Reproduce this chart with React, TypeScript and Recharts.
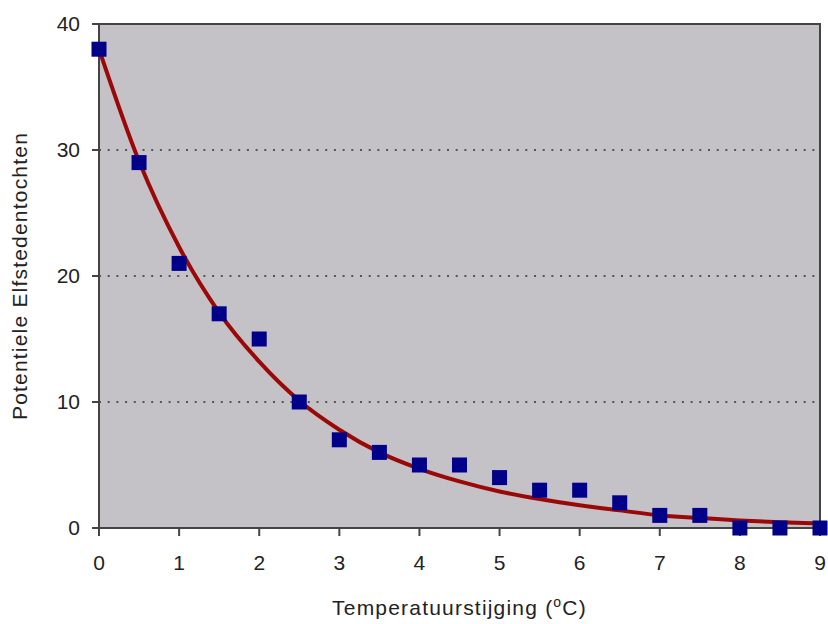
import React from 'react'
import {
  ComposedChart,
  Scatter,
  Line,
  XAxis,
  YAxis,
  CartesianGrid,
  ReferenceArea,
  Label,
} from 'recharts'

// measured points (temperature rise vs potential Elfstedentochten)
const temps = [0, 0.5, 1, 1.5, 2, 2.5, 3, 3.5, 4, 4.5, 5, 5.5, 6, 6.5, 7, 7.5, 8, 8.5, 9]
const tochten = [38, 29, 21, 17, 15, 10, 7, 6, 5, 5, 4, 3, 3, 2, 1, 1, 0, 0, 0]
// trend curve
const trend = [38, 29.1, 22.3, 17.1, 13.2, 10.1, 7.8, 6.0, 4.7, 3.7, 2.9, 2.3, 1.8, 1.4, 1.0, 0.8, 0.6, 0.45, 0.35]
const xTicks = [0, 1, 2, 3, 4, 5, 6, 7, 8, 9]
const yTicks = [0, 10, 20, 30, 40]

const points = temps.map((t, i) => ({ x: t, y: tochten[i] }))
const curve = temps.map((t, i) => ({ x: t, fit: trend[i] }))

const FONT = '"Liberation Sans", Arial, Helvetica, sans-serif'
const AXIS = '#444'
const TEXT = '#222'

const Square = (props: any) => {
  const { cx, cy } = props
  if (cx == null || cy == null) return null
  const s = 15
  return <rect x={cx - s / 2} y={cy - s / 2} width={s} height={s} fill="#000088" />
}

const XTick = (props: any) => {
  const { x, y, payload } = props
  return (
    <text x={x} y={y + 16} textAnchor="middle" fontFamily={FONT} fontSize={21} fill={TEXT}>
      {payload.value}
    </text>
  )
}

const YTick = (props: any) => {
  const { x, y, payload } = props
  return (
    <text x={x} y={y + 7} textAnchor="end" fontFamily={FONT} fontSize={21} fill={TEXT}>
      {payload.value}
    </text>
  )
}

const XTitle = (props: any) => {
  const vb = props.viewBox
  return (
    <text
      x={vb.x + vb.width / 2}
      y={vb.y + 87}
      textAnchor="middle"
      fontFamily={FONT}
      fontSize={21}
      letterSpacing={1.2}
      fill={TEXT}
    >
      Temperatuurstijging (
      <tspan dy={-8} fontSize={14}>o</tspan>
      <tspan dy={8}>C)</tspan>
    </text>
  )
}

export default function App() {
  return (
    <div style={{ position: 'absolute', left: 0, top: 0, width: 828, height: 624, background: '#fff' }}>
      <ComposedChart
        width={828}
        height={624}
        margin={{ top: 24, right: 8, bottom: 0, left: 0 }}
      >
        <CartesianGrid
          fill="#c4c2c6"
          vertical={false}
          stroke="#555"
          strokeDasharray="2 6.7"
          strokeWidth={2}
        />
        <XAxis
          type="number"
          dataKey="x"
          domain={[0, 9]}
          ticks={xTicks}
          height={96}
          tickSize={8}
          tickMargin={18}
          stroke={AXIS}
          strokeWidth={2}
          tick={<XTick />}
          allowDuplicatedCategory={false}
        >
          <Label content={<XTitle />} />
        </XAxis>
        <YAxis
          type="number"
          domain={[0, 40]}
          ticks={yTicks}
          width={99}
          tickSize={7}
          tickMargin={12}
          stroke={AXIS}
          strokeWidth={2}
          tick={<YTick />}
        >
          <Label
            value="Potentiele Elfstedentochten"
            angle={-90}
            position="insideLeft"
            offset={20}
            style={{ textAnchor: 'middle', fontSize: 21, letterSpacing: 1.2, fill: TEXT, fontFamily: FONT }}
          />
        </YAxis>
        <ReferenceArea x1={0} x2={9} y1={0} y2={40} fill="none" stroke={AXIS} strokeWidth={2} />
        <Scatter
          data={points}
          dataKey="y"
          shape={<Square />}
          isAnimationActive={false}
        />
        <Line
          data={curve}
          dataKey="fit"
          type="monotone"
          stroke="#9a0808"
          strokeWidth={4}
          dot={false}
          activeDot={false}
          isAnimationActive={false}
        />
      </ComposedChart>
    </div>
  )
}
